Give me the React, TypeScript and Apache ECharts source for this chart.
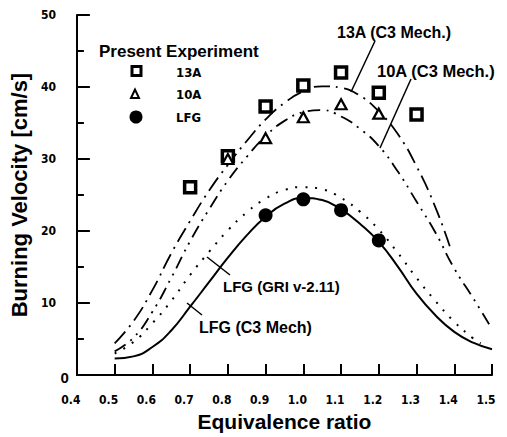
import React, { useEffect, useRef } from "react";
import * as echarts from "echarts";

// ---- data ----
const xLabels = ["0.4", "0.5", "0.6", "0.7", "0.8", "0.9", "1.0", "1.1", "1.2", "1.3", "1.4", "1.5"];

const calc13AX = [0.5, 0.55, 0.6, 0.65, 0.7, 0.75, 0.8, 0.85, 0.9, 0.95, 1.0, 1.05, 1.1, 1.15, 1.2, 1.25, 1.3, 1.35, 1.39];
const calc13AY = [4.4, 7.5, 11.8, 16.9, 21.4, 25.6, 29.2, 32.5, 35.5, 37.8, 39.4, 40.1, 39.9, 38.8, 36.6, 33.5, 29.0, 23.3, 17.6];

const calc10AX = [0.5, 0.55, 0.6, 0.65, 0.7, 0.75, 0.8, 0.85, 0.9, 0.95, 1.0, 1.05, 1.1, 1.15, 1.2, 1.25, 1.3, 1.35, 1.4, 1.45, 1.5];
const calc10AY = [3.3, 5.2, 8.8, 13.5, 18.6, 23.0, 27.0, 30.3, 33.2, 35.3, 36.5, 36.8, 35.9, 34.2, 31.8, 28.3, 24.1, 19.8, 14.8, 10.7, 6.4];

const lfgGriX = [0.5, 0.55, 0.6, 0.65, 0.7, 0.75, 0.8, 0.85, 0.9, 0.95, 1.0, 1.05, 1.1, 1.15, 1.2, 1.25, 1.3, 1.35, 1.4, 1.45, 1.47];
const lfgGriY = [3.0, 4.6, 7.2, 10.3, 13.9, 17.1, 20.1, 22.6, 24.5, 25.7, 26.1, 25.8, 24.6, 22.7, 20.2, 17.0, 13.5, 10.3, 7.4, 5.1, 4.4];

const lfgC3X = [0.5, 0.55, 0.6, 0.65, 0.7, 0.75, 0.8, 0.85, 0.9, 0.95, 1.0, 1.05, 1.1, 1.15, 1.2, 1.25, 1.3, 1.35, 1.4, 1.45, 1.5];
const lfgC3Y = [2.3, 2.6, 3.9, 6.2, 9.5, 12.9, 16.3, 19.4, 22.0, 23.8, 24.6, 24.3, 23.0, 21.0, 18.5, 15.1, 11.3, 8.3, 6.0, 4.5, 3.6];

const exp13AX = [0.7, 0.8, 0.9, 1.0, 1.1, 1.2, 1.3];
const exp13AY = [26.1, 30.4, 37.3, 40.2, 42.0, 39.2, 36.2];
const exp10AX = [0.8, 0.9, 1.0, 1.1, 1.2];
const exp10AY = [30.0, 32.9, 35.8, 37.6, 36.3];
const expLFGX = [0.9, 1.0, 1.1, 1.2];
const expLFGY = [22.2, 24.4, 22.9, 18.7];

const legendNames = ["13A", "10A", "LFG"];

const zip = (xs: number[], ys: number[]) => xs.map((x, i) => [x, ys[i]]);

const NARROW = "'Liberation Sans Narrow', 'DejaVu Sans Condensed', 'Arial Narrow', 'Liberation Sans', sans-serif";
const BOLD = "'Liberation Sans', Arial, Helvetica, sans-serif";

export default function App() {
  const ref = useRef<HTMLDivElement>(null);
  useEffect(() => {
    if (!ref.current) return;
    const chart = echarts.init(ref.current, undefined, { renderer: "svg" });
    const txt = (text: string, x: number, y: number, size: number, family = BOLD) => ({
      type: "text",
      x,
      y,
      z: 100,
      style: { text, fontFamily: family, fontWeight: "bold", fontSize: size, fill: "#000", align: "left", verticalAlign: "middle" },
    });
    const ln = (x1: number, y1: number, x2: number, y2: number) => ({
      type: "line",
      z: 100,
      shape: { x1, y1, x2, y2 },
      style: { stroke: "#000", lineWidth: 1.5 },
    });
    const option: any = {
      animation: false,
      backgroundColor: "#fff",
      grid: { left: 72, top: 15, right: 15, bottom: 56, containLabel: false },
      xAxis: {
        type: "value",
        min: 0.4,
        max: 1.5,
        interval: 0.1,
        name: "Equivalence ratio",
        nameLocation: "middle",
        nameGap: 26,
        nameTextStyle: { fontFamily: BOLD, fontWeight: "bold", fontSize: 21, color: "#000" },
        axisLine: { show: true, lineStyle: { color: "#000", width: 2 } },
        axisTick: { show: true, inside: true, length: 11, lineStyle: { color: "#000", width: 2 } },
        splitLine: { show: false },
        axisLabel: {
          margin: 19,
          fontFamily: NARROW,
          fontWeight: "bold",
          fontSize: 12,
          color: "#000",
          padding: [0, 12, 0, 0],
          formatter: (v: number) => xLabels[Math.round((v - 0.4) * 10)] ?? v.toFixed(1),
        },
      },
      yAxis: {
        type: "value",
        min: 0,
        max: 50,
        interval: 10,
        name: "Burning Velocity [cm/s]",
        nameLocation: "middle",
        nameGap: 38,
        nameTextStyle: { fontFamily: BOLD, fontWeight: "bold", fontSize: 22, color: "#000" },
        axisLine: { show: true, lineStyle: { color: "#000", width: 2 } },
        axisTick: { show: true, inside: true, length: 13, lineStyle: { color: "#000", width: 2 } },
        minorTick: { show: true, splitNumber: 2, length: 7, lineStyle: { color: "#000", width: 2 } },
        splitLine: { show: false },
        minorSplitLine: { show: false },
        axisLabel: {
          margin: 8,
          formatter: (v: number) => (v === 0 ? "{z|0}" : "{n|" + v + "}"),
          rich: {
            n: { fontFamily: NARROW, fontWeight: "bold", fontSize: 12, color: "#000", padding: [0, 13, 0, 0] },
            z: { fontFamily: BOLD, fontWeight: "bold", fontSize: 15, color: "#000", padding: [4, 0, 0, 0] },
          },
        },
      },
      series: [
        {
          name: "13A (C3 Mech.)",
          type: "line",
          smooth: true,
          showSymbol: false,
          data: zip(calc13AX, calc13AY),
          lineStyle: { color: "#000", width: 1.8, type: [16, 6, 2, 6] },
          z: 2,
        },
        {
          name: "10A (C3 Mech.)",
          type: "line",
          smooth: true,
          showSymbol: false,
          data: zip(calc10AX, calc10AY),
          lineStyle: { color: "#000", width: 1.8, type: [13, 6, 2, 6, 2, 6] },
          z: 2,
        },
        {
          name: "LFG (GRI v-2.11)",
          type: "line",
          smooth: true,
          showSymbol: false,
          data: zip(lfgGriX, lfgGriY),
          lineStyle: { color: "#000", width: 2, type: [2, 8] },
          z: 2,
        },
        {
          name: "LFG (C3 Mech)",
          type: "line",
          smooth: true,
          showSymbol: false,
          data: zip(lfgC3X, lfgC3Y),
          lineStyle: { color: "#000", width: 2 },
          z: 2,
        },
        {
          name: legendNames[0],
          type: "scatter",
          symbol: "rect",
          symbolSize: 11,
          data: zip(exp13AX, exp13AY),
          itemStyle: { color: "#fff", borderColor: "#000", borderWidth: 3.5, opacity: 1 },
          z: 5,
        },
        {
          name: legendNames[1],
          type: "scatter",
          symbol: "triangle",
          symbolSize: [11, 10],
          data: zip(exp10AX, exp10AY),
          itemStyle: { color: "#fff", borderColor: "#000", borderWidth: 2.2, opacity: 1 },
          z: 6,
        },
        {
          name: legendNames[2],
          type: "scatter",
          symbol: "circle",
          symbolSize: 14,
          data: zip(expLFGX, expLFGY),
          itemStyle: { color: "#000", opacity: 1 },
          z: 5,
        },
      ],
      graphic: [
        txt("Present Experiment", 99, 51, 17),
        {
          type: "rect",
          z: 100,
          shape: { x: 132, y: 66.5, width: 9, height: 9 },
          style: { fill: "#fff", stroke: "#000", lineWidth: 3 },
        },
        {
          type: "polygon",
          z: 100,
          shape: { points: [[135, 89.5], [131, 98], [139, 98]] },
          style: { fill: "#fff", stroke: "#000", lineWidth: 2 },
        },
        { type: "circle", z: 100, shape: { cx: 136, cy: 117, r: 6.5 }, style: { fill: "#000" } },
        txt(legendNames[0], 176, 72, 13, NARROW),
        txt(legendNames[1], 176, 94.5, 13, NARROW),
        txt(legendNames[2], 176, 117.5, 13, NARROW),
        txt("13A (C3 Mech.)", 337, 32.5, 16),
        ln(375, 41, 351, 92),
        txt("10A (C3 Mech.)", 377, 71, 16.5),
        ln(411, 79, 380, 148),
        txt("LFG (GRI v-2.11)", 223, 286, 15),
        ln(207, 257, 230, 275),
        txt("LFG (C3 Mech)", 199, 327, 16),
        ln(187, 303, 202, 315),
      ],
    };
    chart.setOption(option);
    return () => chart.dispose();
  }, []);
  return (
    <div
      ref={ref}
      style={{ position: "fixed", left: 0, top: 0, width: 507, height: 437, background: "#fff" }}
    />
  );
}
